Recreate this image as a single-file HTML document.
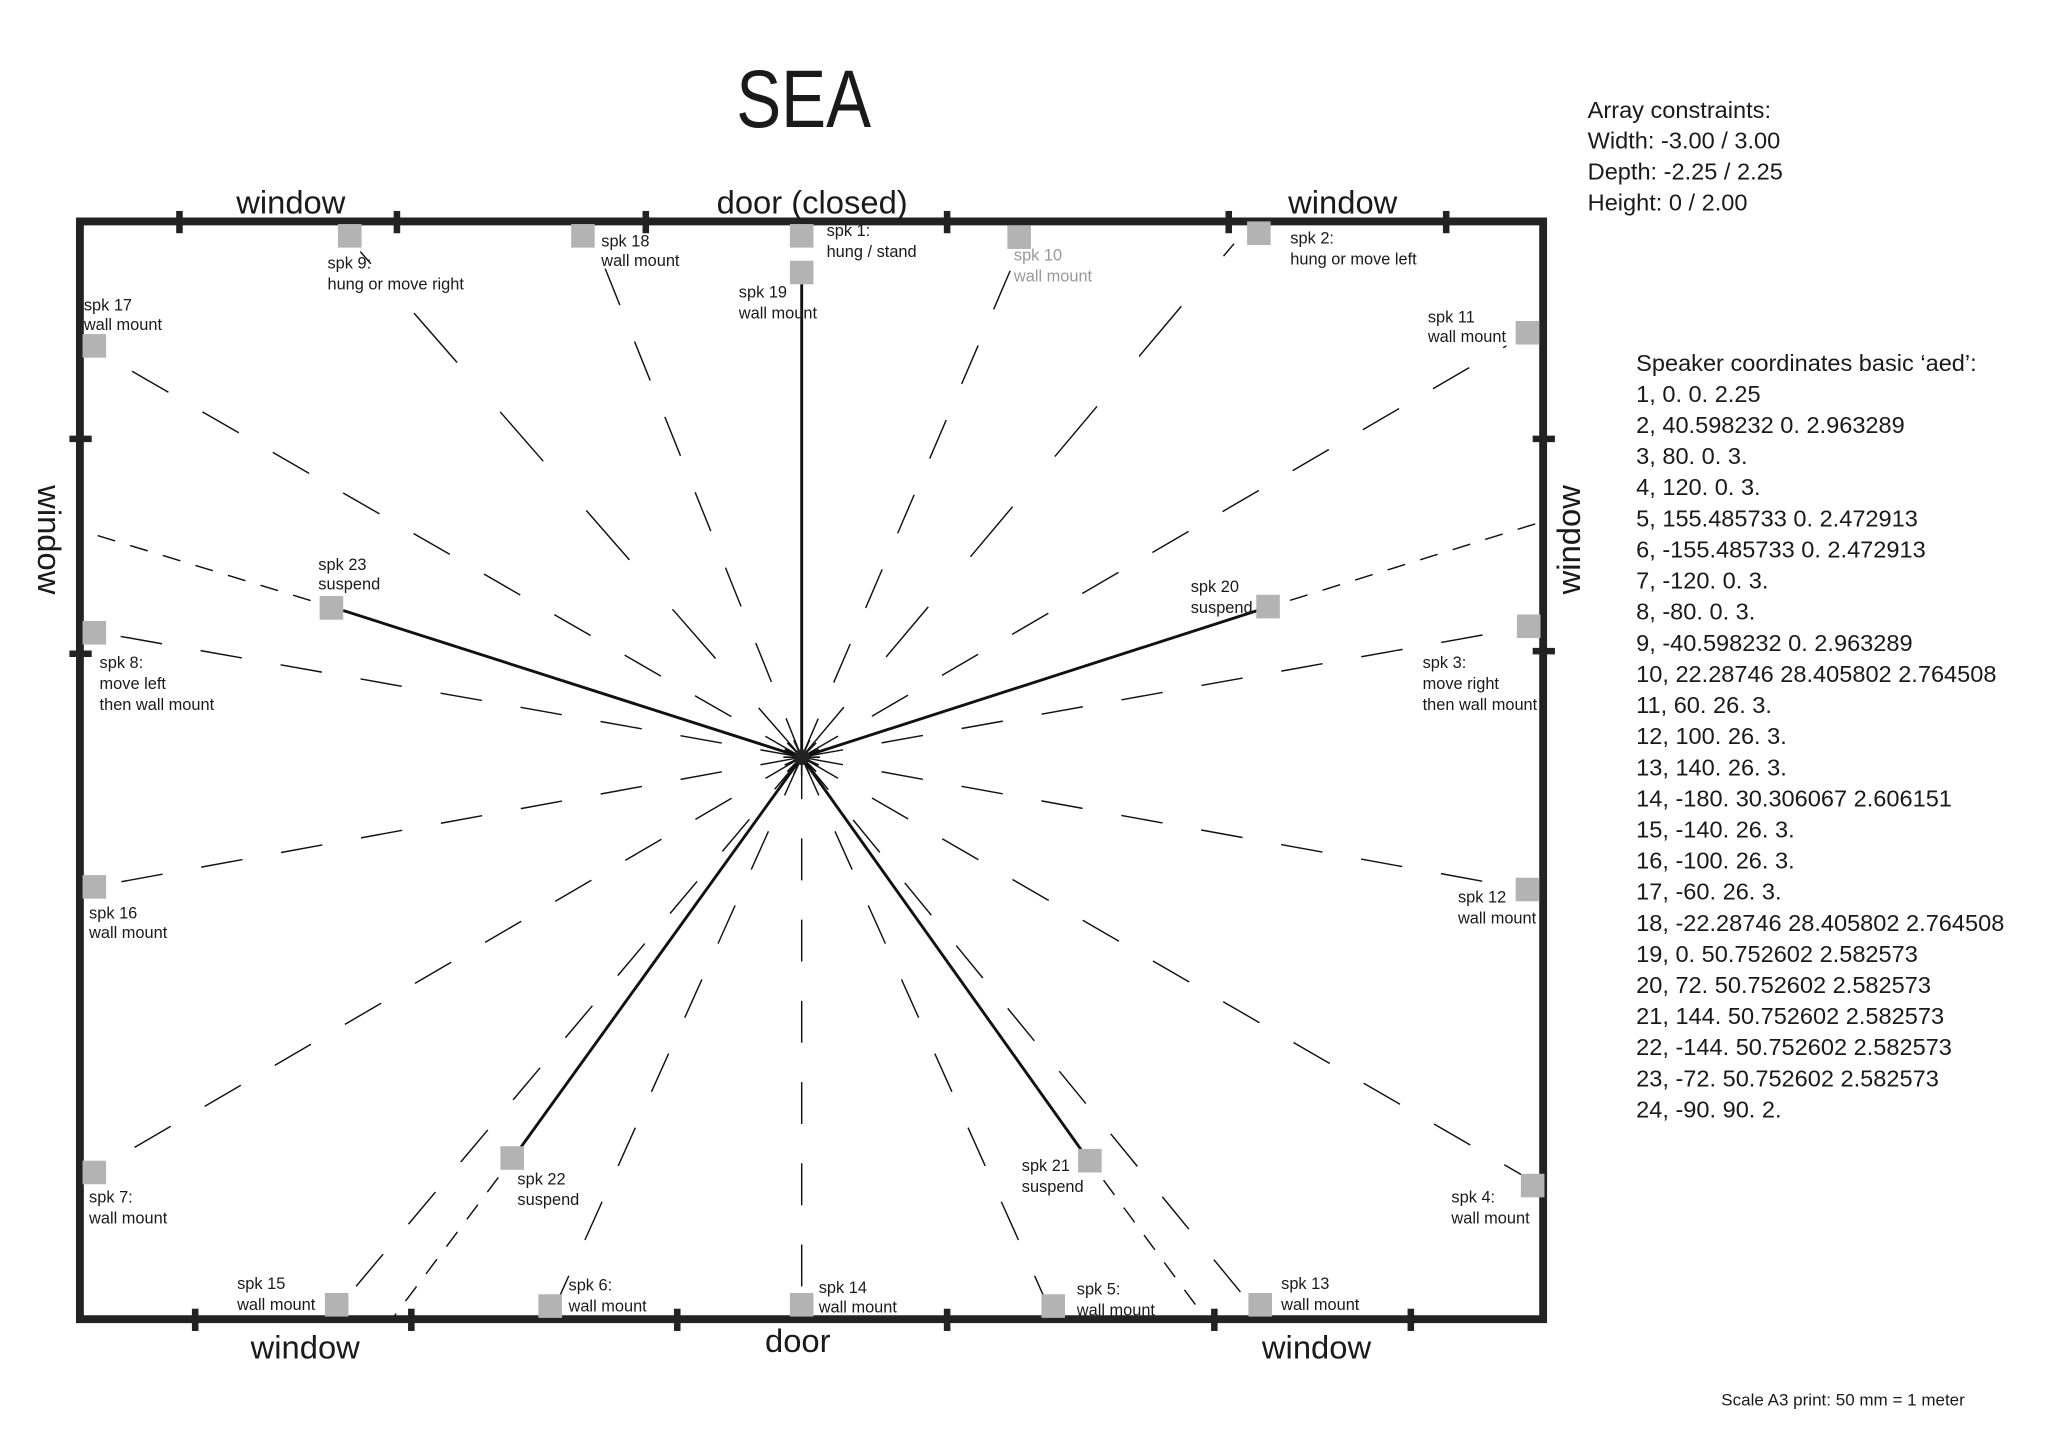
<!DOCTYPE html>
<html><head><meta charset="utf-8"><style>
html,body{margin:0;padding:0;background:#fff;}
svg{display:block;}
text{font-family:"Liberation Sans Narrow","Liberation Sans",sans-serif;fill:#1a1a1a;}
.l{font-size:12.5px;}
.g{fill:#999;}
.big{font-family:"Liberation Sans",sans-serif;font-size:25px;}
.r{font-size:18px;}
</style></head><body>
<svg width="2048" height="1448" viewBox="0 0 1563.4 1105.3" xmlns="http://www.w3.org/2000/svg">
<rect width="1563.4" height="1105.3" fill="#fff"/>
<g stroke="#111" stroke-width="1.1" fill="none">
<g stroke-dasharray="32 30">
<line x1="612" y1="578" x2="88" y2="276"/>
<line x1="612" y1="578" x2="462" y2="205"/>
<line x1="612" y1="578" x2="777" y2="193"/>
<line x1="612" y1="578" x2="1150" y2="264"/>
<line x1="612" y1="578" x2="82" y2="484"/>
<line x1="612" y1="578" x2="1158" y2="480"/>
<line x1="612" y1="578" x2="82" y2="675"/>
<line x1="612" y1="578" x2="1150" y2="676"/>
<line x1="612" y1="578" x2="82" y2="888"/>
<line x1="612" y1="578" x2="1162" y2="897"/>
<line x1="612" y1="578" x2="265" y2="990"/>
<line x1="612" y1="578" x2="427" y2="990"/>
<line x1="612" y1="578" x2="612" y2="990"/>
<line x1="612" y1="578" x2="797" y2="990"/>
<line x1="612" y1="578" x2="950" y2="990"/>
</g>
<g stroke-dasharray="50 50">
<line x1="612" y1="578" x2="275" y2="192"/>
<line x1="612" y1="578" x2="942" y2="186"/>
</g>
<g stroke-dasharray="14 12">
<line x1="262" y1="466" x2="62" y2="405"/>
<line x1="960" y1="466" x2="1178" y2="398"/>
<line x1="396" y1="878" x2="300" y2="1006"/>
<line x1="827" y1="880" x2="920" y2="1006"/>
</g>
</g>
<g stroke="#111" stroke-width="2.2">
<line x1="612" y1="578" x2="612" y2="217"/>
<line x1="612" y1="578" x2="262" y2="466"/>
<line x1="612" y1="578" x2="960" y2="466"/>
<line x1="612" y1="578" x2="396" y2="878"/>
<line x1="612" y1="578" x2="827" y2="880"/>
</g>
<g stroke="#111" stroke-width="1.3">
<line x1="598" y1="578" x2="626" y2="578"/><line x1="612" y1="564" x2="612" y2="592"/>
<line x1="601" y1="567" x2="623" y2="589"/><line x1="623" y1="567" x2="601" y2="589"/>
<line x1="599" y1="572" x2="625" y2="584"/><line x1="625" y1="572" x2="599" y2="584"/>
<line x1="606" y1="565" x2="618" y2="591"/><line x1="618" y1="565" x2="606" y2="591"/>
</g>
<circle cx="612" cy="578" r="6" fill="#222"/>
<rect x="61" y="169" width="1117" height="838" fill="none" stroke="#222" stroke-width="6"/>
<g stroke="#222" stroke-width="5">
<line x1="137" y1="161" x2="137" y2="178"/><line x1="303" y1="161" x2="303" y2="178"/>
<line x1="493" y1="161" x2="493" y2="178"/><line x1="723" y1="161" x2="723" y2="178"/>
<line x1="938" y1="161" x2="938" y2="178"/><line x1="1104" y1="161" x2="1104" y2="178"/>
<line x1="149" y1="999" x2="149" y2="1016"/><line x1="314" y1="999" x2="314" y2="1016"/>
<line x1="517" y1="999" x2="517" y2="1016"/><line x1="723" y1="999" x2="723" y2="1016"/>
<line x1="927" y1="999" x2="927" y2="1016"/><line x1="1077" y1="999" x2="1077" y2="1016"/>
<line x1="53" y1="335" x2="70" y2="335"/><line x1="53" y1="499" x2="70" y2="499"/>
<line x1="1170" y1="335" x2="1187" y2="335"/><line x1="1170" y1="497" x2="1187" y2="497"/>
</g>
<g fill="#b3b3b3">
<rect x="258" y="171" width="18" height="18"/><rect x="436" y="171" width="18" height="18"/>
<rect x="603" y="171" width="18" height="18"/><rect x="769" y="172" width="18" height="18"/>
<rect x="952" y="169" width="18" height="18"/><rect x="603" y="199" width="18" height="18"/>
<rect x="63" y="255" width="18" height="18"/><rect x="1157" y="245" width="18" height="18"/>
<rect x="244" y="455" width="18" height="18"/><rect x="959" y="454" width="18" height="18"/>
<rect x="63" y="474" width="18" height="18"/><rect x="1158" y="469" width="18" height="18"/>
<rect x="63" y="668" width="18" height="18"/><rect x="1157" y="670" width="18" height="18"/>
<rect x="63" y="886" width="18" height="18"/><rect x="1161" y="896" width="18" height="18"/>
<rect x="382" y="875" width="18" height="18"/><rect x="823" y="877" width="18" height="18"/>
<rect x="248" y="987" width="18" height="18"/><rect x="411" y="988" width="18" height="18"/>
<rect x="603" y="987" width="18" height="18"/><rect x="795" y="988" width="18" height="18"/>
<rect x="953" y="987" width="18" height="18"/>
</g>
<text x="562" y="97" textLength="103" lengthAdjust="spacingAndGlyphs" style="font-size:62px;font-family:'Liberation Sans',sans-serif">SEA</text>
<text class="big" x="222" y="163" text-anchor="middle">window</text>
<text class="big" x="620" y="163" text-anchor="middle">door (closed)</text>
<text class="big" x="1025" y="163" text-anchor="middle">window</text>
<text class="big" x="233" y="1037" text-anchor="middle">window</text>
<text class="big" x="609" y="1032" text-anchor="middle">door</text>
<text class="big" x="1005" y="1037" text-anchor="middle">window</text>
<text class="big" x="0" y="0" text-anchor="middle" transform="translate(29,412) rotate(90)">window</text>
<text class="big" x="0" y="0" text-anchor="middle" transform="translate(1206,412) rotate(-90)">window</text>

<g class="l">
<text class="l" x="250" y="205">spk 9:</text><text class="l" x="250" y="221">hung or move right</text>
<text class="l" x="459" y="188">spk 18</text><text class="l" x="459" y="203">wall mount</text>
<text class="l" x="631" y="180">spk 1:</text><text class="l" x="631" y="196">hung / stand</text>
<text class="l g" x="774" y="199">spk 10</text><text class="l g" x="774" y="215">wall mount</text>
<text class="l" x="985" y="186">spk 2:</text><text class="l" x="985" y="202">hung or move left</text>
<text class="l" x="564" y="227">spk 19</text><text class="l" x="564" y="243">wall mount</text>
<text class="l" x="64" y="237">spk 17</text><text class="l" x="64" y="252">wall mount</text>
<text class="l" x="1090" y="246">spk 11</text><text class="l" x="1090" y="261">wall mount</text>
<text class="l" x="243" y="435">spk 23</text><text class="l" x="243" y="450">suspend</text>
<text class="l" x="909" y="452">spk 20</text><text class="l" x="909" y="468">suspend</text>
<text class="l" x="76" y="510">spk 8:</text><text class="l" x="76" y="526">move left</text><text class="l" x="76" y="542">then wall mount</text>
<text class="l" x="1086" y="510">spk 3:</text><text class="l" x="1086" y="526">move right</text><text class="l" x="1086" y="542">then wall mount</text>
<text class="l" x="68" y="701">spk 16</text><text class="l" x="68" y="716">wall mount</text>
<text class="l" x="1113" y="689">spk 12</text><text class="l" x="1113" y="705">wall mount</text>
<text class="l" x="68" y="918">spk 7:</text><text class="l" x="68" y="934">wall mount</text>
<text class="l" x="1108" y="918">spk 4:</text><text class="l" x="1108" y="934">wall mount</text>
<text class="l" x="395" y="904">spk 22</text><text class="l" x="395" y="920">suspend</text>
<text class="l" x="780" y="894">spk 21</text><text class="l" x="780" y="910">suspend</text>
<text class="l" x="181" y="984">spk 15</text><text class="l" x="181" y="1000">wall mount</text>
<text class="l" x="434" y="985">spk 6:</text><text class="l" x="434" y="1001">wall mount</text>
<text class="l" x="625" y="987">spk 14</text><text class="l" x="625" y="1002">wall mount</text>
<text class="l" x="822" y="988">spk 5:</text><text class="l" x="822" y="1004">wall mount</text>
<text class="l" x="978" y="984">spk 13</text><text class="l" x="978" y="1000">wall mount</text>
</g>

<g class="r">
<text class="r" x="1212" y="90">Array constraints:</text>
<text class="r" x="1212" y="113.5">Width: -3.00 / 3.00</text>
<text class="r" x="1212" y="137">Depth: -2.25 / 2.25</text>
<text class="r" x="1212" y="160.5">Height: 0 / 2.00</text>
<text class="r" x="1249" y="283">Speaker coordinates basic ‘aed’:</text>
<text class="r" x="1249" y="306.8">1,  0. 0. 2.25</text>
<text class="r" x="1249" y="330.5">2,  40.598232 0. 2.963289</text>
<text class="r" x="1249" y="354.3">3,  80. 0. 3.</text>
<text class="r" x="1249" y="378">4,  120. 0. 3.</text>
<text class="r" x="1249" y="401.8">5,  155.485733 0. 2.472913</text>
<text class="r" x="1249" y="425.5">6,  -155.485733 0. 2.472913</text>
<text class="r" x="1249" y="449.3">7,  -120. 0. 3.</text>
<text class="r" x="1249" y="473">8,  -80. 0. 3.</text>
<text class="r" x="1249" y="496.8">9,  -40.598232 0. 2.963289</text>
<text class="r" x="1249" y="520.5">10, 22.28746 28.405802 2.764508</text>
<text class="r" x="1249" y="544.3">11, 60. 26. 3.</text>
<text class="r" x="1249" y="568">12, 100. 26. 3.</text>
<text class="r" x="1249" y="591.8">13, 140. 26. 3.</text>
<text class="r" x="1249" y="615.5">14, -180. 30.306067 2.606151</text>
<text class="r" x="1249" y="639.3">15, -140. 26. 3.</text>
<text class="r" x="1249" y="663">16, -100. 26. 3.</text>
<text class="r" x="1249" y="686.8">17, -60. 26. 3.</text>
<text class="r" x="1249" y="710.5">18, -22.28746 28.405802 2.764508</text>
<text class="r" x="1249" y="734.3">19, 0. 50.752602 2.582573</text>
<text class="r" x="1249" y="758">20, 72. 50.752602 2.582573</text>
<text class="r" x="1249" y="781.8">21, 144. 50.752602 2.582573</text>
<text class="r" x="1249" y="805.5">22, -144. 50.752602 2.582573</text>
<text class="r" x="1249" y="829.3">23, -72. 50.752602 2.582573</text>
<text class="r" x="1249" y="853">24, -90. 90. 2.</text>
</g>
<text x="1314" y="1073" style="font-size:13px">Scale A3 print: 50 mm = 1 meter</text>
</svg>
</body></html>
